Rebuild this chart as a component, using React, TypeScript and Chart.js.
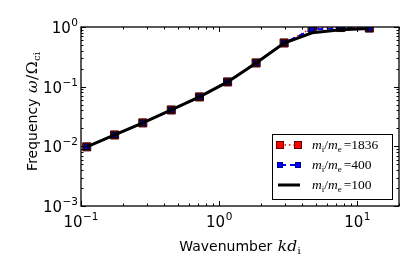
import React, { useEffect, useRef } from "react";
import { Chart, registerables } from "chart.js";

Chart.register(...registerables);

// ---- data ----
const wavenumbers = [0.11, 0.175, 0.28, 0.45, 0.72, 1.15, 1.85, 2.95, 4.7, 7.6, 12.2];
const freqRatio1836 = [0.0098, 0.0155, 0.0247, 0.0407, 0.0673, 0.12, 0.25, 0.54, 0.96, 0.98, 0.96];
const freqRatio400 = [0.0098, 0.0155, 0.0247, 0.0407, 0.0673, 0.12, 0.25, 0.54, 0.91, 0.96, 0.95];
const freqRatio100 = [0.0098, 0.0155, 0.0247, 0.0407, 0.0673, 0.12, 0.25, 0.54, 0.8, 0.9, 0.94];
const massRatioLabels = ["1836", "400", "100"];
const xTickExponents = [-1, 0, 1];
const yTickExponents = [-3, -2, -1, 0];
const xMin = 0.1;
const xMax = 20;
const yMin = 0.001;
const yMax = 1;

const SANS = '"DejaVu Sans", sans-serif';
const SERIF = '"Liberation Serif", serif';
const SERIF_WIDE = '"DejaVu Serif", serif';

type Run = { t: string; size: number; family: string; style?: string; dy?: number; dx?: number };

function runFont(r: Run) {
  return `${r.style || "normal"} ${r.size}px ${r.family}`;
}
function measureRuns(ctx: CanvasRenderingContext2D, runs: Run[]) {
  let w = 0;
  for (const r of runs) {
    ctx.font = runFont(r);
    w += ctx.measureText(r.t).width + (r.dx || 0);
  }
  return w;
}
function drawRuns(ctx: CanvasRenderingContext2D, runs: Run[], x: number, y: number, align: "left" | "center" | "right") {
  const w = measureRuns(ctx, runs);
  let cx = align === "left" ? x : align === "center" ? x - w / 2 : x - w;
  ctx.textAlign = "left";
  ctx.textBaseline = "alphabetic";
  for (const r of runs) {
    ctx.font = runFont(r);
    cx += r.dx || 0;
    ctx.fillText(r.t, cx, y + (r.dy || 0));
    cx += ctx.measureText(r.t).width;
  }
}
function powRuns(exp: number): Run[] {
  const e = exp < 0 ? "\u2212" + String(-exp) : String(exp);
  return [
    { t: "10", size: 15, family: SANS },
    { t: e, size: 10.5, family: SANS, dy: -7, dx: 0.5 },
  ];
}
function massRuns(label: string): Run[] {
  return [
    { t: "m", size: 13.5, family: SERIF, style: "italic" },
    { t: "i", size: 9, family: SERIF, dy: 3 },
    { t: "/", size: 13.5, family: SERIF },
    { t: "m", size: 13.5, family: SERIF, style: "italic" },
    { t: "e", size: 9, family: SERIF, dy: 3 },
    { t: "=" + label, size: 13.5, family: SERIF, dx: 2 },
  ];
}

const framePlugin = {
  id: "mplFrame",
  afterDraw(chart: any) {
    const ctx: CanvasRenderingContext2D = chart.ctx;
    const { left, right, top, bottom } = chart.chartArea;
    const xs = chart.scales.x;
    const ys = chart.scales.y;
    ctx.save();
    ctx.strokeStyle = "#000";
    ctx.fillStyle = "#000";
    // ticks
    ctx.lineWidth = 1;
    const xTicks: [number, number][] = [];
    for (let d = -1; d <= 1; d++) {
      for (let m = 1; m <= 9; m++) {
        const v = m * Math.pow(10, d);
        if (v < xMin - 1e-9 || v > xMax + 1e-9) continue;
        xTicks.push([v, m === 1 ? 5 : 2.5]);
      }
    }
    for (const [v, len] of xTicks) {
      const px = Math.round(xs.getPixelForValue(v)) + 0.5;
      ctx.beginPath();
      ctx.moveTo(px, bottom);
      ctx.lineTo(px, bottom - len);
      ctx.moveTo(px, top);
      ctx.lineTo(px, top + len);
      ctx.stroke();
    }
    for (let d = -3; d <= 0; d++) {
      for (let m = 1; m <= 9; m++) {
        const v = m * Math.pow(10, d);
        if (v > yMax + 1e-9) continue;
        const len = m === 1 ? 5 : 2.5;
        const py = Math.round(ys.getPixelForValue(v)) + 0.5;
        ctx.beginPath();
        ctx.moveTo(left, py);
        ctx.lineTo(left + len, py);
        ctx.moveTo(right, py);
        ctx.lineTo(right - len, py);
        ctx.stroke();
      }
    }
    // frame
    ctx.lineWidth = 1.3;
    ctx.strokeRect(left, top, right - left, bottom - top);

    // tick labels
    ctx.fillStyle = "#000";
    for (const e of xTickExponents) {
      const px = xs.getPixelForValue(Math.pow(10, e));
      drawRuns(ctx, powRuns(e), px, bottom + 21, "center");
    }
    for (const e of yTickExponents) {
      const py = ys.getPixelForValue(Math.pow(10, e));
      drawRuns(ctx, powRuns(e), left - 3, py + 6, "right");
    }

    // axis titles
    const xTitle: Run[] = [
      { t: "Wavenumber ", size: 14, family: SANS },
      { t: "kd", size: 15.5, family: SERIF_WIDE, style: "italic", dx: 1 },
      { t: "i", size: 10, family: SERIF_WIDE, dy: 3, dx: 0.5 },
    ];
    drawRuns(ctx, xTitle, (left + right) / 2, bottom + 45, "center");
    const yTitle: Run[] = [
      { t: "Frequency ", size: 14, family: SANS },
      { t: "\u03c9", size: 15.5, family: SERIF_WIDE, style: "italic", dx: 1 },
      { t: "/", size: 15.5, family: SERIF_WIDE, dx: 0.5 },
      { t: "\u03a9", size: 15.5, family: SERIF_WIDE, dx: 0.5 },
      { t: "ci", size: 10, family: SERIF_WIDE, dy: 3, dx: 0.5 },
    ];
    ctx.save();
    ctx.translate(37, (top + bottom) / 2 - 5);
    ctx.rotate(-Math.PI / 2);
    drawRuns(ctx, yTitle, 0, 0, "center");
    ctx.restore();

    // legend
    const lw = 120;
    const lh = 65;
    const lx = right - 7 - lw;
    const ly = bottom - 7 - lh;
    ctx.fillStyle = "#fff";
    ctx.fillRect(lx, ly, lw, lh);
    ctx.lineWidth = 1;
    ctx.strokeStyle = "#000";
    ctx.strokeRect(lx + 0.5, ly + 0.5, lw, lh);
    const rowY = [ly + 11, ly + 31, ly + 51];
    const m1 = lx + 8;
    const m2 = lx + 26;
    // row 1: red
    ctx.strokeStyle = "#ff0000";
    ctx.lineWidth = 1.5;
    ctx.setLineDash([1.5, 3]);
    ctx.beginPath();
    ctx.moveTo(m1, rowY[0]);
    ctx.lineTo(m2, rowY[0]);
    ctx.stroke();
    ctx.setLineDash([]);
    for (const mx of [m1, m2]) {
      ctx.fillStyle = "#ff0000";
      ctx.fillRect(mx - 4, rowY[0] - 4, 8, 8);
      ctx.strokeStyle = "#400000";
      ctx.lineWidth = 0.8;
      ctx.strokeRect(mx - 3.6, rowY[0] - 3.6, 7.2, 7.2);
    }
    // row 2: blue
    ctx.strokeStyle = "#0000ff";
    ctx.lineWidth = 2;
    ctx.setLineDash([6, 4]);
    ctx.beginPath();
    ctx.moveTo(m1, rowY[1]);
    ctx.lineTo(m2, rowY[1]);
    ctx.stroke();
    ctx.setLineDash([]);
    for (const mx of [m1, m2]) {
      ctx.fillStyle = "#0000ff";
      ctx.fillRect(mx - 3, rowY[1] - 3, 6, 6);
      ctx.strokeStyle = "#000040";
      ctx.lineWidth = 0.6;
      ctx.strokeRect(mx - 2.7, rowY[1] - 2.7, 5.4, 5.4);
    }
    // row 3: black
    ctx.strokeStyle = "#000";
    ctx.lineWidth = 3;
    ctx.beginPath();
    ctx.moveTo(m1 - 2, rowY[2]);
    ctx.lineTo(m2 + 2, rowY[2]);
    ctx.stroke();
    ctx.fillStyle = "#000";
    massRatioLabels.forEach((lab, i) => {
      drawRuns(ctx, massRuns(lab), lx + 40, rowY[i] + 4, "left");
    });
    ctx.restore();
  },
};

export default function App() {
  const ref = useRef<HTMLCanvasElement | null>(null);
  useEffect(() => {
    document.body.style.margin = "0";
    const canvas = ref.current;
    if (!canvas) return;
    const toPts = (ys: number[]) => wavenumbers.map((x, i) => ({ x, y: ys[i] }));
    const chart = new Chart(canvas, {
      type: "line",
      data: {
        datasets: [
          {
            label: massRatioLabels[0],
            data: toPts(freqRatio1836),
            borderColor: "#ff0000",
            borderWidth: 1.5,
            borderDash: [1.5, 3],
            pointStyle: "rect",
            pointRadius: 5.7,
            pointBackgroundColor: "#cc0000",
            pointBorderColor: "#300000",
            pointBorderWidth: 1,
            tension: 0,
            clip: 0,
            order: 2,
          },
          {
            label: massRatioLabels[1],
            data: toPts(freqRatio400),
            borderColor: "#0000ff",
            borderWidth: 2,
            borderDash: [6, 4],
            pointStyle: "rect",
            pointRadius: 4,
            pointBackgroundColor: "#0000cc",
            pointBorderColor: "#000000",
            pointBorderWidth: 1,
            tension: 0,
            clip: 0,
            order: 1,
          },
          {
            label: massRatioLabels[2],
            data: toPts(freqRatio100),
            borderColor: "#000000",
            borderWidth: 3,
            pointRadius: 0,
            tension: 0,
            clip: 0,
            order: 0,
          },
        ],
      } as any,
      options: {
        animation: false,
        responsive: false,
        maintainAspectRatio: false,
        devicePixelRatio: 1,
        layout: { padding: { left: 81, right: 16, top: 27, bottom: 71 } },
        plugins: { legend: { display: false }, tooltip: { enabled: false }, title: { display: false } },
        scales: {
          x: { type: "logarithmic", min: xMin, max: xMax, display: false },
          y: { type: "logarithmic", min: yMin, max: yMax, display: false },
        },
      },
      plugins: [framePlugin],
    });
    return () => chart.destroy();
  }, []);
  return (
    <div style={{ width: 415, height: 277, background: "#fff" }}>
      <canvas ref={ref} width={415} height={277} style={{ display: "block" }} />
    </div>
  );
}
